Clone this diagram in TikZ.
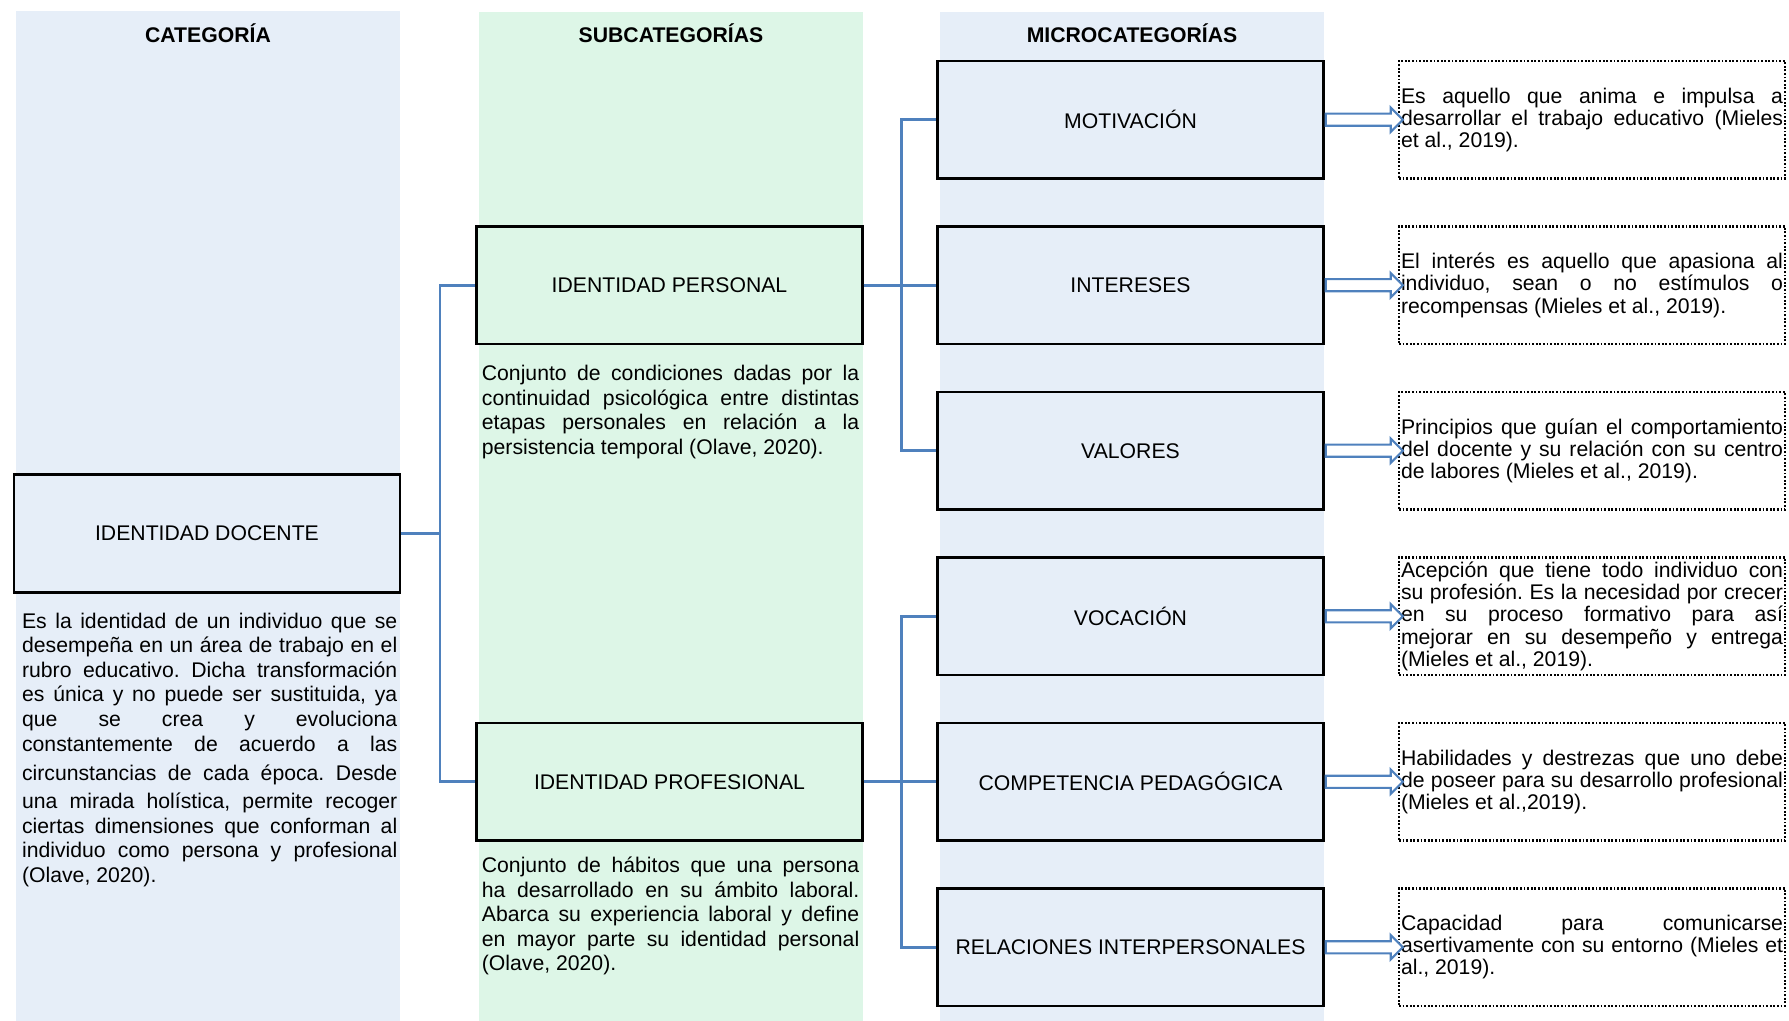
\documentclass[tikz,border=0pt]{standalone}
\usepackage{fontspec}
\setmainfont{Liberation Sans}
\usetikzlibrary{shapes.arrows}
\definecolor{azulclaro}{RGB}{230,238,248}
\definecolor{verdeclaro}{RGB}{221,246,231}
\definecolor{azul}{RGB}{79,129,189}
\newcommand{\letra}{\fontsize{10.6}{12.3}\selectfont\frenchspacing\tolerance=10000\hbadness=10000\hyphenpenalty=10000}
\newcommand{\letrad}{\fontsize{10.6}{11.1}\selectfont\frenchspacing\tolerance=10000\hbadness=10000\hyphenpenalty=10000}
\tikzset{
  caja/.style={draw=black, line width=1.4pt, minimum width=192.75pt, minimum height=58.75pt, inner sep=0pt, font=\letra},
  nota/.style={inner sep=0pt, align=justify, anchor=base west, font=\letra},
  defi/.style={draw=black, line width=1.1pt, dash pattern=on 0.9pt off 0.9pt, fill=white, text width=191pt, inner xsep=1pt, inner ysep=0pt, minimum height=58.75pt, align=justify, font=\letrad},
  enlace/.style={draw=azul, line width=1.3pt},
  flecha/.style={single arrow, draw=azul, fill=white, line width=1.1pt, minimum height=38.5pt, single arrow head extend=3pt, inner sep=2.5pt},
  titulo/.style={font=\letra\bfseries}
}
\begin{document}
\begin{tikzpicture}[x=0.5pt,y=-0.5pt]
\useasboundingbox (0,0) rectangle (1789,1021);
%columnas
\fill[azulclaro] (16,11) rectangle (400,1021);
\fill[verdeclaro] (479,12) rectangle (863,1021);
\fill[azulclaro] (940,12) rectangle (1324,1021);
\node[titulo] (tcat) at (208,33) {CATEGORÍA};
\node[titulo] (tsub) at (671,33) {SUBCATEGORÍAS};
\node[titulo] (tmic) at (1132,33) {MICROCATEGORÍAS};
%categoria
\node[caja, fill=azulclaro, minimum width=193pt] (doc) at (207,533.5) {IDENTIDAD DOCENTE};
\node[nota, text width=187.6pt] (tdoc) at (21.7,628) {Es la identidad de un individuo que se\linebreak
desempeña en un área de trabajo en el\linebreak
rubro educativo. Dicha transformación\linebreak
es única y no puede ser sustituida, ya\linebreak
que se crea y evoluciona\linebreak
constantemente de acuerdo a las\vspace{2.2pt}\linebreak
circunstancias de cada época. Desde\vspace{1.9pt}\linebreak
una mirada holística, permite recoger\linebreak
ciertas dimensiones que conforman al\linebreak
individuo como persona y profesional\linebreak
(Olave, 2020).};
%subcategorias
\node[caja, fill=verdeclaro] (per) at (669.5,285.25) {IDENTIDAD PERSONAL};
\node[caja, fill=verdeclaro] (pro) at (669.5,781.75) {IDENTIDAD PROFESIONAL};
\node[nota, text width=188.7pt] (tper) at (481.5,380.5) {Conjunto de condiciones dadas por la\linebreak
continuidad psicológica entre distintas\linebreak
etapas personales en relación a la\linebreak
persistencia temporal (Olave, 2020).};
\node[nota, text width=188.7pt] (tpro) at (481.5,872.5) {Conjunto de hábitos que una persona\linebreak
ha desarrollado en su ámbito laboral.\linebreak
Abarca su experiencia laboral y define\linebreak
en mayor parte su identidad personal\linebreak
(Olave, 2020).};
%microcategorias
\node[caja, fill=azulclaro] (motiv) at (1130.5,119.75) {MOTIVACIÓN};
\node[caja, fill=azulclaro] (inter) at (1130.5,285.25) {INTERESES};
\node[caja, fill=azulclaro] (valor) at (1130.5,450.75) {VALORES};
\node[caja, fill=azulclaro] (vocac) at (1130.5,616.25) {VOCACIÓN};
\node[caja, fill=azulclaro] (compe) at (1130.5,781.75) {COMPETENCIA PEDAGÓGICA};
\node[caja, fill=azulclaro] (relac) at (1130.5,947.25) {RELACIONES INTERPERSONALES};
%definiciones
\node[defi] (dmotiv) at (1592,119.75) {Es aquello que anima e impulsa a\linebreak
desarrollar el trabajo educativo (Mieles\linebreak
et al., 2019).};
\node[defi] (dinter) at (1592,285.25) {El interés es aquello que apasiona al\linebreak
individuo, sean o no estímulos o\linebreak
recompensas (Mieles et al., 2019).};
\node[defi] (dvalor) at (1592,450.75) {Principios que guían el comportamiento\linebreak
del docente y su relación con su centro\linebreak
de labores (Mieles et al., 2019).};
\node[defi] (dvocac) at (1592,616.25) {Acepción que tiene todo individuo con\linebreak
su profesión. Es la necesidad por crecer\linebreak
en su proceso formativo para así\linebreak
mejorar en su desempeño y entrega\linebreak
(Mieles et al., 2019).};
\node[defi] (dcompe) at (1592,781.75) {Habilidades y destrezas que uno debe\linebreak
de poseer para su desarrollo profesional\linebreak
(Mieles et al.,2019).};
\node[defi] (drelac) at (1592,947.25) {Capacidad para comunicarse\linebreak
asertivamente con su entorno (Mieles et\linebreak
al., 2019).};
%enlaces
\draw[enlace] (doc.east) -- ++(38.5,0) |- (per.west);
\draw[enlace] (doc.east) -- ++(38.5,0) |- (pro.west);
\foreach \m in {motiv,inter,valor}
  \draw[enlace] (per.east) -- ++(38,0) |- (\m.west);
\foreach \m in {vocac,compe,relac}
  \draw[enlace] (pro.east) -- ++(38,0) |- (\m.west);
\foreach \m in {motiv,inter,valor,vocac,compe,relac}
  \path (\m.east) -- (d\m.west) node[midway, flecha] {};
\end{tikzpicture}
\end{document}
